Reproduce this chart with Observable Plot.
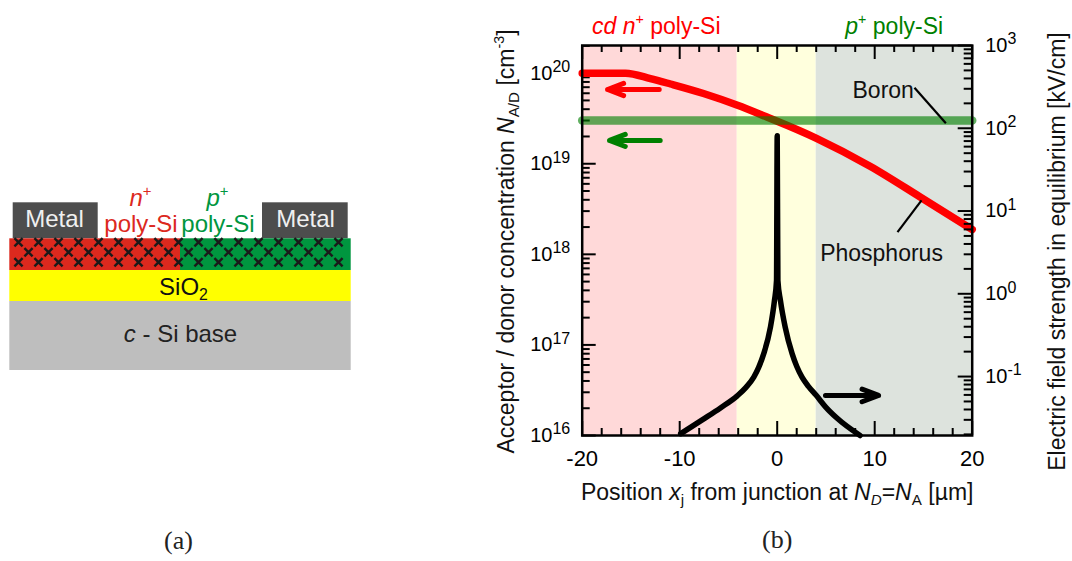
<!DOCTYPE html>
<html>
<head>
<meta charset="utf-8">
<script src="https://cdn.jsdelivr.net/npm/d3@7"></script>
<script src="https://cdn.jsdelivr.net/npm/@observablehq/plot@0.6"></script>
<style>
html,body{margin:0;padding:0;background:#fff;}
#page{position:relative;width:1072px;height:561px;overflow:hidden;}
svg{font-family:"Liberation Sans",Arial,sans-serif;}
</style>
</head>
<body>
<div id="page"></div>
<script>
// ---------- panel (b) data ----------
const phosphorusX = [-20, -15.56, -13, -10.94, -7.56, -4.07, -0.69, 0, 4.03, 9.57, 14.7, 20];
const phosphorusN = [1e20, 1e20, 8.71e19, 7.59e19, 5.96e19, 4.42e19, 3.16e19, 2.95e19, 1.91e19, 9.33e18, 4.27e18, 1.88e18];
const boronX = [-20, 20];
const boronN = [3e19, 3e19];
const fieldX = [-9.9, -7.53, -5.82, -4.1, -3.2, -2.4, -1.9, -1.38, -0.69, -0.28, -0.07, 0, 0.07, 0.33, 0.82, 1.53, 2.0, 2.56, 3.2, 4.0, 5, 6.15, 8.5];
const fieldE = [0.0204, 0.0308, 0.0418, 0.0585, 0.0741, 0.0986, 0.129, 0.189, 0.396, 0.832, 1.45, 81, 1.45, 0.832, 0.396, 0.189, 0.133, 0.0976, 0.0762, 0.0593, 0.0425, 0.0313, 0.0194];
const bandStart = [-20, -4.1, 4];
const bandEnd = [-4.1, 4, 20];
const bandFill = ["#ffd9d9", "#ffffdd", "#dde3dd"];
const xMajor = [-20, -10, 0, 10, 20];
const xMinor = [-18, -16, -14, -12, -8, -6, -4, -2, 2, 4, 6, 8, 12, 14, 16, 18];
const leftDecades = [1e16, 1e17, 1e18, 1e19, 1e20];
const rightDecades = [1e-1, 1, 1e1, 1e2, 1e3];
const rightBase = [1e-2, 1e-1, 1, 1e1, 1e2];
const minorMult = [2, 3, 4, 5, 6, 7, 8, 9];
const xDomain = [-20, 20];
const leftDomain = [1e16, 2.02e20];
const rightDomain = [0.0194, 1000];
const arrowsLeft = [
  {x1: -12.1, x2: -17.4, y: 6.6e19, c: "#ff0000"},
  {x1: -12.0, x2: -17.2, y: 1.81e19, c: "#008000"},
  {x1: 4.95, x2: 10.4, y: 2.77e16, c: "#000000"}
];
const leaders = [
  {x1: 14.08, y1: 6.9e19, x2: 17.3, y2: 2.8e19},
  {x1: 14.8, y1: 3.94e18, x2: 12.34, y2: 1.76e18}
];
const inLabels = [
  {x: 10.87, y: 6.45e19, t: "Boron"},
  {x: 10.7, y: 1.02e18, t: "Phosphorus"}
];
const topLabels = [
  {x: -12.4, t: "*cd n*^{+} poly-Si", c: "#ff0000"},
  {x: 12, t: "*p*^{+} poly-Si", c: "#008000"}
];
const xTitle = "Position *x*_{j} from junction at *N*_*{D}=*N*_{A} [µm]";
const leftTitle = "Acceptor / donor concentration *N*_{A/D} [cm^{-3}]";
const rightTitle = "Electric field strength in equilibrium [kV/cm]";

// ---------- panel (a) data ----------
const layerNames = ["metalL", "metalR", "nPoly", "pPoly", "oxide", "base"];
const layerX1 = [12.7, 262, 9.3, 180, 9.3, 9.3];
const layerX2 = [97.7, 347.7, 180, 350.7, 350.7, 350.7];
const layerY1 = [202.3, 202.3, 238.3, 238.3, 270, 301];
const layerY2 = [238.3, 238.3, 270, 270, 301, 370];
const layerFill = ["#4d4d4d", "#4d4d4d", "#dc291e", "#00963f", "#ffff00", "#bebebe"];
const hatchRowA = [241.7, 261.7];
const hatchRowB = [251.7];
const hatchColsA = [18, 38, 58, 78, 98, 118, 138, 158, 178, 198, 218, 238, 258, 278, 298, 318, 338];
const hatchColsB = [28, 48, 68, 88, 108, 128, 148, 168, 188, 208, 228, 248, 268, 288, 308, 328];
const schematicLabels = [
  {x: 54, y: 219, t: "Metal", c: "#f0f0f0"},
  {x: 305, y: 219, t: "Metal", c: "#f0f0f0"},
  {x: 140.5, y: 224, t: "poly-Si", c: "#dc291e"},
  {x: 217.5, y: 224, t: "poly-Si", c: "#009640"},
  {x: 140, y: 198, t: "*n*^{+}", c: "#dc291e"},
  {x: 217, y: 198, t: "*p*^{+}", c: "#009640"},
  {x: 183, y: 287, t: "SiO_{2}", c: "#111111"},
  {x: 180, y: 334, t: "*c* - Si base", c: "#222222"}
];

// ---------- helpers ----------
const W = 1072, H = 561;
const frameTop = 45, frameBottom = 126, frameLeft = 581.7, frameRight = 100.3;
const frameH = H - frameTop - frameBottom;
const series = (xs, ys) => xs.map((x, i) => ({x, y: ys[i]}));
const expand = (bases, lo, hi) => bases.flatMap(b => minorMult.map(m => m * b)).filter(v => v > lo && v < hi);
const base = {
  width: W, height: H,
  marginLeft: frameLeft, marginRight: frameRight, marginTop: frameTop, marginBottom: frameBottom,
  style: {position: "absolute", left: "0", top: "0", background: "transparent", fontFamily: "'Liberation Sans',Arial,sans-serif"}
};
function richText(svg) {
  d3.select(svg).selectAll("text").each(function () {
    const s = this.textContent;
    if (!/[*^_]/.test(s)) return;
    const isTick = /^10\^/.test(s);
    const parts = s.split(/(\*[^*]+\*|\^\{[^}]+\}|_\*\{[^}]+\}|_\{[^}]+\})/).filter(p => p);
    const node = d3.select(this);
    node.text(null);
    let shift = 0;
    const fs = parseFloat(getComputedStyle(this).fontSize);
    parts.forEach(p => {
      let txt = p, italic = false, target = 0, size = null;
      if (p.startsWith("*")) { txt = p.slice(1, -1); italic = true; }
      else if (p.startsWith("^{")) { txt = p.slice(2, -1); target = isTick ? -0.38 : -0.42; size = isTick ? 0.8 : 0.62; }
      else if (p.startsWith("_*{")) { txt = p.slice(3, -1); target = 0.22; size = 0.66; italic = true; }
      else if (p.startsWith("_{")) { txt = p.slice(2, -1); target = 0.22; size = 0.66; }
      const ts = node.append("tspan").text(txt);
      if (italic) ts.attr("font-style", "italic");
      if (size) ts.attr("font-size", fs * size);
      ts.attr("dy", (target - shift) * fs);
      shift = target;
    });
  });
  return svg;
}

// ---------- panel (a) ----------
const layers = layerNames.map((n, i) => ({n, x1: layerX1[i], x2: layerX2[i], y1: layerY1[i], y2: layerY2[i], f: layerFill[i]}));
const hatch = [...d3.cross(hatchColsA, hatchRowA), ...d3.cross(hatchColsB, hatchRowB)];
const panelA = Plot.plot({
  width: W, height: H, margin: 0,
  style: base.style,
  x: {domain: [0, W], range: [0, W], axis: null},
  y: {domain: [0, H], range: [0, H], axis: null},
  marks: [
    Plot.rect(layers, {x1: "x1", x2: "x2", y1: "y1", y2: "y2", fill: "f"}),
    Plot.dot(hatch, {x: d => d[0], y: d => d[1], symbol: "times", r: 3.8, stroke: "#1a1a1a", strokeWidth: 2.4}),
    Plot.text(schematicLabels, {x: "x", y: "y", text: "t", fill: "c", fontSize: 24})
  ]
});

// ---------- panel (b), concentration side ----------
const panelB = Plot.plot({
  ...base,
  x: {domain: xDomain, axis: null},
  y: {type: "log", domain: leftDomain, axis: null},
  marks: [
    Plot.rect(bandStart.map((s, i) => ({s, e: bandEnd[i], f: bandFill[i]})), {x1: "s", x2: "e", y1: leftDomain[0], y2: leftDomain[1], fill: "f"}),
    Plot.tickX(xMajor, {x: d => d, insetTop: frameH - 14, strokeWidth: 2}),
    Plot.tickX(xMajor, {x: d => d, insetBottom: frameH - 14, strokeWidth: 2}),
    Plot.tickX(xMinor, {x: d => d, insetTop: frameH - 7, strokeWidth: 2}),
    Plot.tickX(xMinor, {x: d => d, insetBottom: frameH - 7, strokeWidth: 2}),
    Plot.tickY(leftDecades, {y: d => d, insetRight: 390 - 14, strokeWidth: 2}),
    Plot.tickY(expand(leftDecades, leftDomain[0], leftDomain[1]), {y: d => d, insetRight: 390 - 8, strokeWidth: 2}),
    Plot.line(series(phosphorusX, phosphorusN), {x: "x", y: "y", stroke: "#ff0000", strokeWidth: 7.5, strokeLinecap: "round", curve: "monotone-x", clip: false}),
    Plot.line(series(boronX, boronN), {x: "x", y: "y", stroke: "#008000", strokeWidth: 8.5, strokeOpacity: 0.62, strokeLinecap: "round"}),
    Plot.frame({stroke: "#000", strokeWidth: 2.5}),
    Plot.arrow(arrowsLeft, {x1: "x1", x2: "x2", y1: "y", y2: "y", stroke: "c", strokeWidth: 5, headLength: 8, headAngle: 42, bend: 0}),
    Plot.link(leaders, {x1: "x1", y1: "y1", x2: "x2", y2: "y2", stroke: "#000", strokeWidth: 2.2}),
    Plot.text(inLabels, {x: "x", y: "y", text: "t", fontSize: 23, fill: "#111"}),
    Plot.text(topLabels, {x: "x", text: "t", fill: "c", frameAnchor: "top", dy: -28, fontSize: 23}),
    Plot.axisY({ticks: leftDecades, anchor: "left", tickSize: 0, tickPadding: 12, label: null, fontSize: 20, tickFormat: d => `10^{${Math.round(Math.log10(d))}}`}),
    Plot.axisX({ticks: xMajor, anchor: "bottom", tickSize: 0, tickPadding: 15, label: null, fontSize: 22, tickFormat: d => String(d)}),
    Plot.text([xTitle], {text: d => d, frameAnchor: "bottom", dy: 64, fontSize: 23, fill: "#111"}),
    Plot.text([leftTitle], {text: d => d, frameAnchor: "left", dx: -76, dy: 1, rotate: -90, textAnchor: "middle", fontSize: 23, fill: "#111"}),
    Plot.text(["(b)"], {text: d => d, x: 0, frameAnchor: "bottom", dy: 112, fontSize: 26, fontFamily: "'Liberation Serif',serif", fill: "#222"})
  ]
});

// ---------- panel (b), field side: same frame, its own y scale ----------
const panelC = Plot.plot({
  ...base,
  x: {domain: xDomain, axis: null},
  y: {type: "log", domain: rightDomain, axis: null},
  marks: [
    Plot.tickY(rightDecades, {y: d => d, insetLeft: 390 - 14, strokeWidth: 2}),
    Plot.tickY(expand(rightBase, rightDomain[0], rightDomain[1]), {y: d => d, insetLeft: 390 - 8, strokeWidth: 2}),
    Plot.line(series(fieldX, fieldE), {x: "x", y: "y", stroke: "#000", strokeWidth: 5.5, strokeLinecap: "round", strokeLinejoin: "round", curve: "monotone-x"}),
    Plot.axisY({ticks: rightDecades, anchor: "right", tickSize: 0, tickPadding: 13, label: null, fontSize: 20, tickFormat: d => `10^{${Math.round(Math.log10(d))}}`}),
    Plot.text([rightTitle], {text: d => d, frameAnchor: "right", dx: 85, dy: 11, rotate: -90, textAnchor: "middle", fontSize: 23, fill: "#111"})
  ]
});

// caption of panel (a)
const panelD = Plot.plot({
  width: W, height: H, margin: 0,
  style: base.style,
  x: {domain: [0, W], range: [0, W], axis: null},
  y: {domain: [0, H], range: [0, H], axis: null},
  marks: [
    Plot.text(["(a)"], {text: d => d, x: 178, y: 540, fontSize: 26, fontFamily: "'Liberation Serif',serif", fill: "#222"})
  ]
});

const page = document.getElementById("page");
[panelA, panelB, panelC, panelD].forEach(p => { page.appendChild(p); richText(p); });
</script>
</body>
</html>
